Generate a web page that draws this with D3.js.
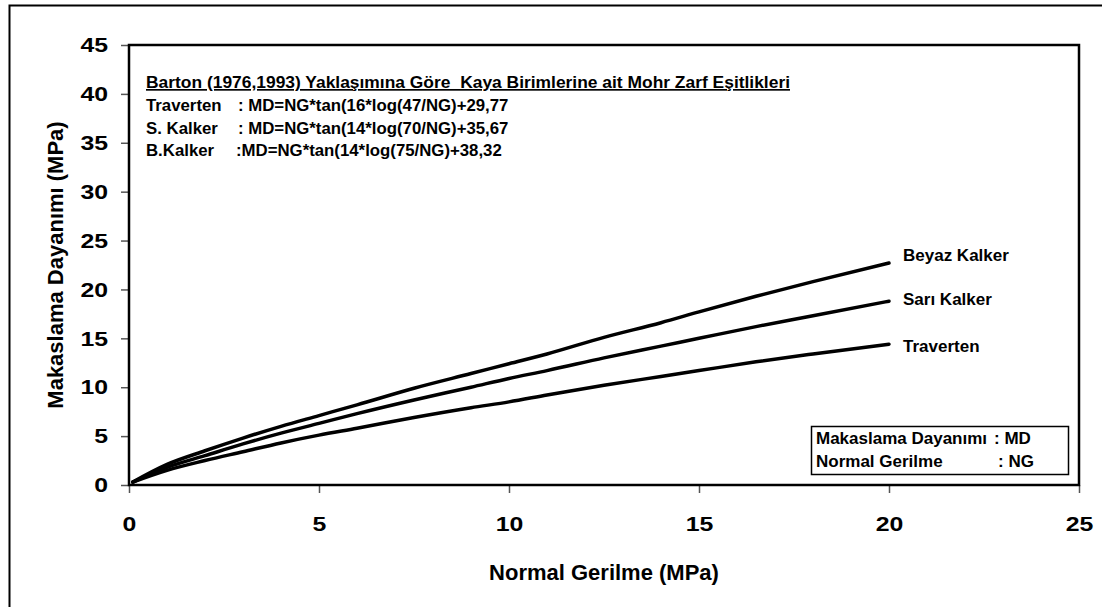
<!DOCTYPE html>
<html>
<head>
<meta charset="utf-8">
<script src="https://cdn.jsdelivr.net/npm/d3@7"></script>
<style>
   body { margin: 0; background: #fff; }
   svg text { font-family: Arial, "Liberation Sans", sans-serif; font-weight: bold; fill: #000; }
</style>
</head>
<body>
<div id="chart"></div>
<script>
// normal stress (MPa) and shear strength (MPa)
const normalStress = [0.1, 1, 2, 3, 4, 5, 6, 7.5, 9, 10, 11, 12.5, 14, 15, 16.5, 18, 20];
const traverten    = [0.3, 1.5, 2.5, 3.4, 4.3, 5.1, 5.8, 6.9, 7.9, 8.5, 9.2, 10.2, 11.1, 11.7, 12.6, 13.4, 14.4];
const sariKalker   = [0.3, 1.8, 3.0, 4.2, 5.3, 6.3, 7.3, 8.7, 10.0, 10.9, 11.7, 13.0, 14.2, 15.0, 16.2, 17.3, 18.8];
const beyazKalker  = [0.3, 2.1, 3.5, 4.8, 6.0, 7.1, 8.2, 9.9, 11.4, 12.4, 13.4, 15.1, 16.6, 17.7, 19.3, 20.8, 22.7];

const seriesNames = ["Beyaz Kalker", "Sarı Kalker", "Traverten"];
const xTicks = [0, 5, 10, 15, 20, 25];
const yTicks = [0, 5, 10, 15, 20, 25, 30, 35, 40, 45];

const noteTitle = "Barton (1976,1993) Yaklaşımına Göre  Kaya Birimlerine ait Mohr Zarf Eşitlikleri";
const noteNames = ["Traverten", "S. Kalker", "B.Kalker"];
const noteEquations = [
   ": MD=NG*tan(16*log(47/NG)+29,77",
   ": MD=NG*tan(14*log(70/NG)+35,67",
   ":MD=NG*tan(14*log(75/NG)+38,32"
];
const keyNames = ["Makaslama Dayanımı", "Normal Gerilme"];
const keyValues = [": MD", ": NG"];

const width = 1102, height = 607;
const margin = { left: 129, top: 45, right: 23, bottom: 122 };

const svg = d3.select("#chart").append("svg")
   .attr("width", width)
   .attr("height", height);

// outer chart frame (runs off the right and bottom edge)
svg.append("rect")
   .attr("x", 9.5).attr("y", 5.5)
   .attr("width", 1200).attr("height", 800)
   .attr("fill", "none")
   .attr("stroke", "#000")
   .attr("stroke-width", 2);

const x = d3.scaleLinear().domain([0, 25]).range([margin.left, width - margin.right]);
const y = d3.scaleLinear().domain([0, 45]).range([height - margin.bottom, margin.top]);

// axes
const xAxis = svg.append("g")
   .attr("transform", `translate(0,${y(0)})`)
   .call(d3.axisBottom(x).tickValues(xTicks).tickSize(8).tickPadding(23));
const yAxis = svg.append("g")
   .attr("transform", `translate(${x(0)},0)`)
   .call(d3.axisLeft(y).tickValues(yTicks).tickSize(8).tickPadding(13));

[xAxis, yAxis].forEach(function(a) {
   a.select(".domain").remove();
   a.selectAll(".tick line").attr("stroke", "#555").attr("stroke-width", 1.5);
   a.selectAll(".tick text")
      .attr("font-size", 21)
      .attr("font-family", "Arial, 'Liberation Sans', sans-serif")
      .attr("font-weight", "bold")
      .attr("fill", "#000")
      .attr("textLength", function(d) { return String(d).length * 13.8; })
      .attr("lengthAdjust", "spacingAndGlyphs");
});

// plot area border
svg.append("rect")
   .attr("x", x(0)).attr("y", y(45))
   .attr("width", x(25) - x(0)).attr("height", y(0) - y(45))
   .attr("fill", "none")
   .attr("stroke", "#000")
   .attr("stroke-width", 2.5);

// curves
const allSeries = [beyazKalker, sariKalker, traverten];
const labelDy = [-2, 4, 8];
const line = d3.line()
   .x(function(d, i) { return x(normalStress[i]); })
   .y(function(d) { return y(d); })
   .curve(d3.curveMonotoneX);

svg.append("g").selectAll("path")
   .data(allSeries)
   .join("path")
   .attr("d", line)
   .attr("fill", "none")
   .attr("stroke", "#000")
   .attr("stroke-width", 3.5)
   .attr("stroke-linecap", "round");

svg.append("g").selectAll("text")
   .data(allSeries)
   .join("text")
   .attr("x", x(normalStress[normalStress.length - 1]) + 14)
   .attr("y", function(d, i) { return y(d[d.length - 1]) + labelDy[i]; })
   .attr("font-size", 17)
   .text(function(d, i) { return seriesNames[i]; });

// equation notes
svg.append("text")
   .attr("x", 146).attr("y", 88)
   .attr("font-size", 16.8)
   .attr("text-decoration", "underline")
   .style("white-space", "pre")
   .attr("textLength", 644)
   .attr("lengthAdjust", "spacingAndGlyphs")
   .text(noteTitle);

const notes = svg.append("g").selectAll("g")
   .data(noteNames)
   .join("g")
   .attr("transform", function(d, i) { return `translate(0,${111 + i * 22.5})`; });
notes.append("text")
   .attr("x", 146)
   .attr("font-size", 16.8)
   .text(function(d) { return d; });
notes.append("text")
   .attr("x", function(d, i) { return noteEquations[i].startsWith(": ") ? 238 : 236; })
   .attr("font-size", 16.8)
   .text(function(d, i) { return noteEquations[i]; });

// abbreviation key
svg.append("rect")
   .attr("x", 811.5).attr("y", 426.5)
   .attr("width", 257).attr("height", 48)
   .attr("fill", "#fff")
   .attr("stroke", "#000")
   .attr("stroke-width", 1.5);

const keys = svg.append("g").selectAll("g")
   .data(keyNames)
   .join("g")
   .attr("transform", function(d, i) { return `translate(0,${444 + i * 23})`; });
keys.append("text")
   .attr("x", 816)
   .attr("font-size", 17)
   .text(function(d) { return d; });
keys.append("text")
   .attr("x", function(d, i) { return i === 0 ? 994 : 998; })
   .attr("font-size", 17)
   .text(function(d, i) { return keyValues[i]; });

// axis titles
svg.append("text")
   .attr("x", (x(0) + x(25)) / 2)
   .attr("y", 580)
   .attr("text-anchor", "middle")
   .attr("font-size", 22)
   .text("Normal Gerilme (MPa)");

svg.append("text")
   .attr("transform", `translate(63,${(y(0) + y(45)) / 2}) rotate(-90)`)
   .attr("text-anchor", "middle")
   .attr("font-size", 22)
   .text("Makaslama Dayanımı (MPa)");
</script>
</body>
</html>
